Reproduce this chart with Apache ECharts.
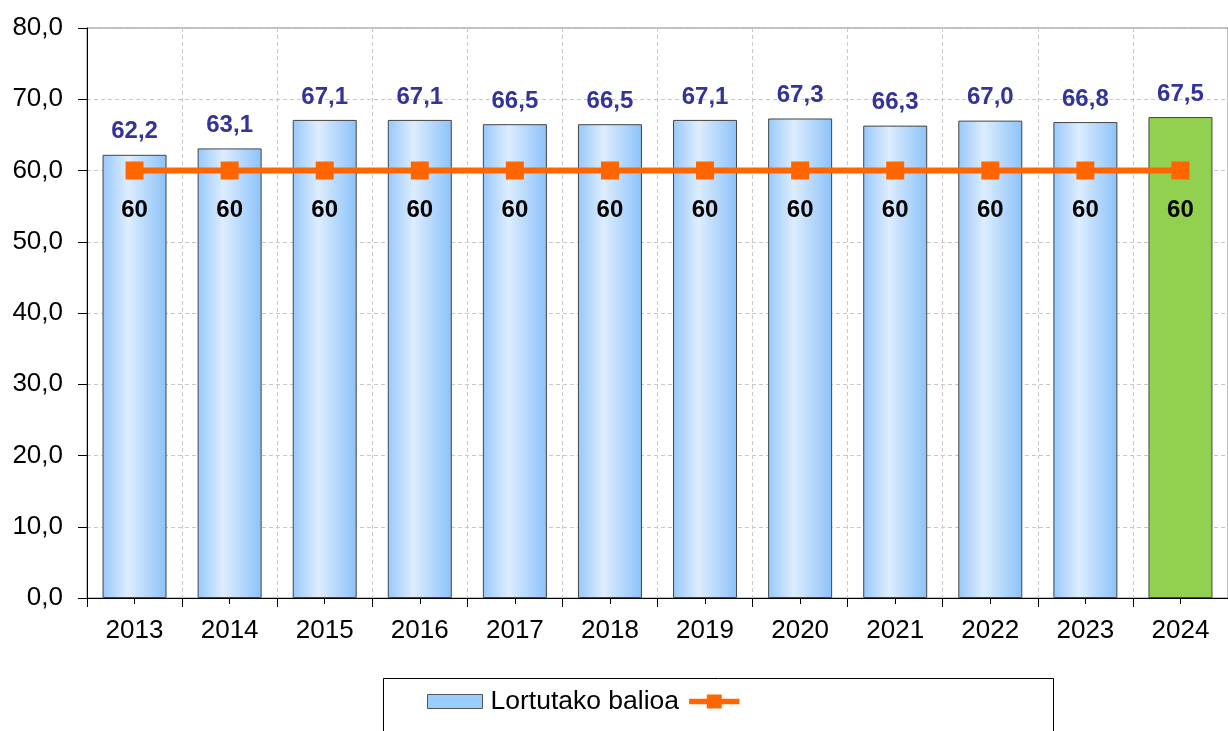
<!DOCTYPE html>
<html>
<head>
<meta charset="utf-8">
<script src="https://cdn.jsdelivr.net/npm/echarts@6/dist/echarts.min.js"></script>
<style>html,body{margin:0;padding:0;background:#fff;}#c{width:1228px;height:731px;}</style>
</head>
<body>
<div id="c"></div>
<script>
const years = ['2013','2014','2015','2016','2017','2018','2019','2020','2021','2022','2023','2024'];
const achieved = [62.2, 63.1, 67.1, 67.1, 66.5, 66.5, 67.1, 67.3, 66.3, 67.0, 66.8, 67.5];
const target = [60, 60, 60, 60, 60, 60, 60, 60, 60, 60, 60, 60];
const barName = 'Lortutako balioa';
const lineName = ' ';

const blueGrad = new echarts.graphic.LinearGradient(0, 0, 1, 0, [
  {offset: 0, color: '#97C8FC'},
  {offset: 0.4, color: '#DDEDFD'},
  {offset: 1, color: '#8CC2FA'}
]);
const font = '"Liberation Sans", Arial, sans-serif';
const lineIcon = 'path://M0,4.5 L19,4.5 L19,0 L35,0 L35,4.5 L54,4.5 L54,10.5 L35,10.5 L35,15 L19,15 L19,10.5 L0,10.5 Z';

const chart = echarts.init(document.getElementById('c'), null, {renderer: 'canvas'});
chart.setOption({
  animation: false,
  backgroundColor: '#fff',
  grid: {left: 87, top: 28, width: 1148, height: 570, show: true, borderColor: '#808080', borderWidth: 1, backgroundColor: 'transparent'},
  graphic: [{
    type: 'rect', z: 0,
    shape: {x: 383.5, y: 678.5, width: 670, height: 80},
    style: {fill: '#fff', stroke: '#000', lineWidth: 1}
  }],
  legend: {
    left: 427, top: 688, z: 10, padding: 0,
    itemWidth: 55, itemHeight: 14, itemGap: 10,
    textStyle: {fontFamily: font, fontSize: 26.5, color: '#000', padding: [0, 0, 0, 3]},
    data: [
      {name: barName, icon: 'rect', itemStyle: {color: '#99CCFF', borderColor: '#555', borderWidth: 1}},
      {name: lineName, icon: lineIcon, itemStyle: {color: '#FF6600', borderWidth: 0}}
    ]
  },
  xAxis: [{
    type: 'category', data: years,
    axisLine: {lineStyle: {color: '#000', width: 1}},
    axisTick: {show: true, length: 9, lineStyle: {color: '#000'}},
    axisLabel: {fontFamily: font, fontSize: 26, color: '#000', margin: 20},
    splitLine: {show: true, lineStyle: {color: '#c8c8c8', type: [4, 3]}}
  }, {
    type: 'category', data: years, position: 'bottom', offset: 0,
    axisLine: {show: false},
    axisTick: {show: true, alignWithLabel: true, length: 6, lineStyle: {color: '#000'}},
    axisLabel: {show: false},
    splitLine: {show: false}
  }],
  yAxis: {
    type: 'value', min: 0, max: 80, interval: 10,
    axisLine: {show: true, lineStyle: {color: '#000', width: 1}},
    axisTick: {show: true, length: 9, lineStyle: {color: '#000'}},
    axisLabel: {fontFamily: font, fontSize: 26, color: '#000', margin: 24,
      formatter: v => v.toFixed(1).replace('.', ',')},
    splitLine: {show: true, lineStyle: {color: '#c8c8c8', type: [4, 3]}}
  },
  series: [{
    name: barName, type: 'bar', barWidth: 64,
    data: achieved.map((v, i) => ({
      value: v,
      itemStyle: i === achieved.length - 1 ? {color: '#92D050'} : {color: blueGrad}
    })),
    itemStyle: {borderColor: '#444', borderWidth: 1},
    label: {show: true, position: 'top', distance: 11, fontFamily: font, fontSize: 24, fontWeight: 'bold', color: '#333399',
      formatter: p => p.value.toFixed(1).replace('.', ',')}
  }, {
    name: lineName, type: 'line', data: target,
    color: '#FF6600',
    lineStyle: {color: '#FF6600', width: 6},
    itemStyle: {color: '#FF6600'},
    symbol: 'rect', symbolSize: 18,
    label: {show: true, position: 'bottom', distance: 19, fontFamily: font, fontSize: 24, fontWeight: 'bold', color: '#000'},
    z: 5
  }]
});
</script>
</body>
</html>
